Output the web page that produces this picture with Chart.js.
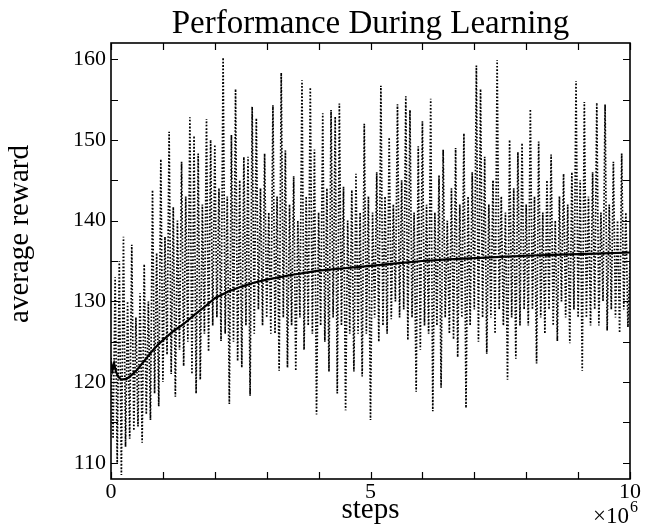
<!DOCTYPE html>
<html>
<head>
<meta charset="utf-8">
<script src="https://cdn.jsdelivr.net/npm/chart.js@4.4.1/dist/chart.umd.min.js"></script>
<style>
  html, body { margin: 0; padding: 0; background: #fff; }
  #wrap { width: 647px; height: 525px; position: relative; }
</style>
</head>
<body>
<div id="wrap"><canvas id="c" width="647" height="525"></canvas></div>
<script>
// ---- data ----
const chartTitle = "Performance During Learning";
const xAxisTitle = "steps";
const yAxisTitle = "average reward";
const stepUnit = 1e6;            // x axis shown in units of 10^6 steps
const sampleInterval = 40000;    // spacing of the noisy samples, in steps
const xTickValues = [0, 1, 2, 3, 4, 5, 6, 7, 8, 9, 10];   // in units of 10^6 steps
const xTickLabels = [0, 5, 10];
const yTickValues = [110, 115, 120, 125, 130, 135, 140, 145, 150, 155, 160];
const yTickLabels = [110, 120, 130, 140, 150, 160];

// noisy per-sample average reward (dotted line), one value every sampleInterval steps
const noisyReward = [
  123, 113, 133, 110, 135, 108.5, 138, 112, 130, 113,
  137, 114, 128, 114.5, 131, 112.5, 134.6, 116, 130, 115.3,
  143.8, 118.6, 136, 117, 147.6, 120, 138, 123.4, 151, 121,
  141.7, 118.2, 140, 124, 147.3, 122, 143, 125, 152.8, 121,
  150.5, 118.6, 148.3, 120.3, 142, 126, 152.6, 123.8, 150, 127,
  149.4, 128, 144, 125.1, 160.2, 126, 143, 117.3, 150.6, 125,
  156.3, 122.6, 145, 121.8, 147.9, 127, 147.9, 118.3, 154.1, 126,
  152.7, 129, 144, 127, 148.3, 128, 141, 126, 154.3, 126,
  143, 121.4, 158.3, 128, 148.7, 121.8, 142, 127, 145.5, 121.4,
  140, 128, 157.4, 124, 143, 127, 156.5, 126, 148.8, 116,
  141, 127, 153.3, 125, 144, 121.3, 153.7, 128, 152.9, 118.6,
  154.5, 127, 144.2, 116.5, 140, 126, 143.8, 121.3, 145.8, 126,
  141, 120.7, 152, 126, 143, 115.3, 141, 128, 146, 125,
  156.7, 127, 143, 126, 150.3, 127.8, 142, 130, 154.4, 128,
  145, 129, 155.4, 125.2, 153.7, 128, 141, 118.8, 149.2, 124,
  152.3, 127, 142, 126, 155.1, 116.4, 141, 127, 145.6, 119.3,
  148.8, 128, 140, 126, 144, 125.3, 149, 123.1, 142, 128,
  150.8, 116.8, 143, 127, 146, 129, 159.2, 125, 156.3, 128,
  147.9, 123.5, 142, 128, 145, 126, 159.9, 129, 143, 127,
  141, 120.3, 150, 128, 144, 122.9, 148.5, 127, 149.6, 129,
  142, 127, 153.8, 129, 143, 122.3, 149.8, 128, 141, 126,
  145, 129, 148.2, 127, 140, 125.1, 143, 130, 145.8, 128,
  142, 124.8, 146, 129, 157.3, 128, 145, 121.4, 154.7, 128,
  143, 127, 146, 129, 154.6, 127, 141, 130, 154.4, 126.4,
  142, 129, 147.3, 128, 140, 126.1, 148.3, 129, 141, 126.8,
  135
];

// running average (solid line)
const smoothSteps = [0, 0.03, 0.06, 0.1, 0.15, 0.2, 0.3, 0.4, 0.5, 0.6, 0.7, 0.8, 0.9, 1.0,
  1.2, 1.4, 1.6, 1.8, 2.0, 2.25, 2.5, 2.75, 3.0, 3.5, 4.0, 4.5, 5.0, 5.5, 6.0, 6.5, 7.0,
  7.5, 8.0, 8.5, 9.0, 9.5, 10.0];
const smoothReward = [122.5, 121.5, 122.3, 121.2, 120.6, 120.3, 120.4, 120.9, 121.5, 122.3,
  123.1, 123.9, 124.6, 125.2, 126.3, 127.2, 128.3, 129.3, 130.4, 131.2, 131.8, 132.3, 132.7,
  133.3, 133.8, 134.1, 134.4, 134.7, 135.0, 135.2, 135.35, 135.5, 135.65, 135.75, 135.85,
  135.95, 136.05];

// ---- build datasets ----
const noisyPoints = noisyReward.map((v, i) => ({ x: i * sampleInterval, y: v }));
const smoothPoints = smoothSteps.map((s, i) => ({ x: s * stepUnit, y: smoothReward[i] }));

const SERIF = "'Liberation Serif', 'DejaVu Serif', serif";

const framePlugin = {
  id: 'frame',
  afterDatasetsDraw(chart) {
    const ctx = chart.ctx;
    const { left, right, top, bottom } = chart.chartArea;
    const xs = chart.scales.x, ys = chart.scales.y;
    ctx.save();
    ctx.strokeStyle = '#000';
    ctx.lineWidth = 1.6;
    ctx.strokeRect(left, top, right - left, bottom - top);
    ctx.lineWidth = 1.2;
    const tl = 7;
    ctx.beginPath();
    xs.ticks.forEach(t => {
      const px = Math.round(xs.getPixelForValue(t.value)) + 0.5;
      ctx.moveTo(px, bottom); ctx.lineTo(px, bottom - tl);
      ctx.moveTo(px, top); ctx.lineTo(px, top + tl);
    });
    ys.ticks.forEach(t => {
      const py = Math.round(ys.getPixelForValue(t.value)) + 0.5;
      ctx.moveTo(left, py); ctx.lineTo(left + tl, py);
      ctx.moveTo(right, py); ctx.lineTo(right - tl, py);
    });
    ctx.stroke();

    ctx.fillStyle = '#000';
    // chart title, centred over the plot area
    ctx.font = "33px " + SERIF;
    ctx.textAlign = 'center';
    ctx.textBaseline = 'alphabetic';
    ctx.fillText(chartTitle, (left + right) / 2, 33);

    // y axis title
    ctx.save();
    ctx.font = "29px " + SERIF;
    ctx.textAlign = 'center';
    ctx.textBaseline = 'middle';
    ctx.translate(20, 234);
    ctx.rotate(-Math.PI / 2);
    ctx.fillText(yAxisTitle, 0, 0);
    ctx.restore();

    // exponent label for the x axis
    ctx.textBaseline = 'alphabetic';
    ctx.textAlign = 'left';
    ctx.font = "23px " + SERIF;
    const base = "\u00d710";
    const w = ctx.measureText(base).width;
    const x0 = 593;
    ctx.fillText(base, x0, 523);
    ctx.font = "16px " + SERIF;
    ctx.fillText("6", x0 + w + 1, 512);
    ctx.restore();
  }
};

new Chart(document.getElementById('c'), {
  type: 'line',
  data: {
    datasets: [
      {
        data: smoothPoints,
        borderColor: '#000',
        borderWidth: 2.2,
        pointRadius: 0,
        tension: 0,
        order: 0
      },
      {
        data: noisyPoints,
        borderColor: '#000',
        borderWidth: 1.7,
        borderDash: [1.6, 1.8],
        pointRadius: 0,
        tension: 0,
        order: 1
      }
    ]
  },
  options: {
    responsive: false,
    animation: false,
    devicePixelRatio: 1,
    layout: { padding: { left: 0, right: 17, top: 43, bottom: 0 } },
    plugins: {
      legend: { display: false },
      tooltip: { enabled: false },
      title: { display: false }
    },
    scales: {
      x: {
        type: 'linear',
        min: 0,
        max: 10 * stepUnit,
        grid: { display: false, drawTicks: false },
        border: { display: false },
        afterBuildTicks: (s) => { s.ticks = xTickValues.map(v => ({ value: v * stepUnit })); },
        ticks: {
          padding: 0,
          color: '#000',
          font: { family: SERIF, size: 22 },
          maxRotation: 0,
          autoSkip: false,
          callback: (v) => {
            const m = Math.round(v / stepUnit * 1000) / 1000;
            return xTickLabels.includes(m) ? String(m) : '';
          }
        },
        title: {
          display: true,
          text: xAxisTitle,
          color: '#000',
          font: { family: SERIF, size: 29, lineHeight: 1.0 },
          padding: { top: 0, bottom: 0 }
        },
        afterFit: (s) => { s.height = 46; }
      },
      y: {
        type: 'linear',
        min: 108,
        max: 162,
        grid: { display: false, drawTicks: false },
        border: { display: false },
        afterBuildTicks: (s) => { s.ticks = yTickValues.map(v => ({ value: v })); },
        ticks: {
          padding: 5,
          color: '#000',
          font: { family: SERIF, size: 22 },
          autoSkip: false,
          callback: (v) => yTickLabels.includes(Math.round(v * 1000) / 1000) ? String(v) : ''
        },
        title: { display: false },
        afterFit: (s) => { s.width = 111; }
      }
    }
  },
  plugins: [framePlugin]
});
</script>
</body>
</html>
